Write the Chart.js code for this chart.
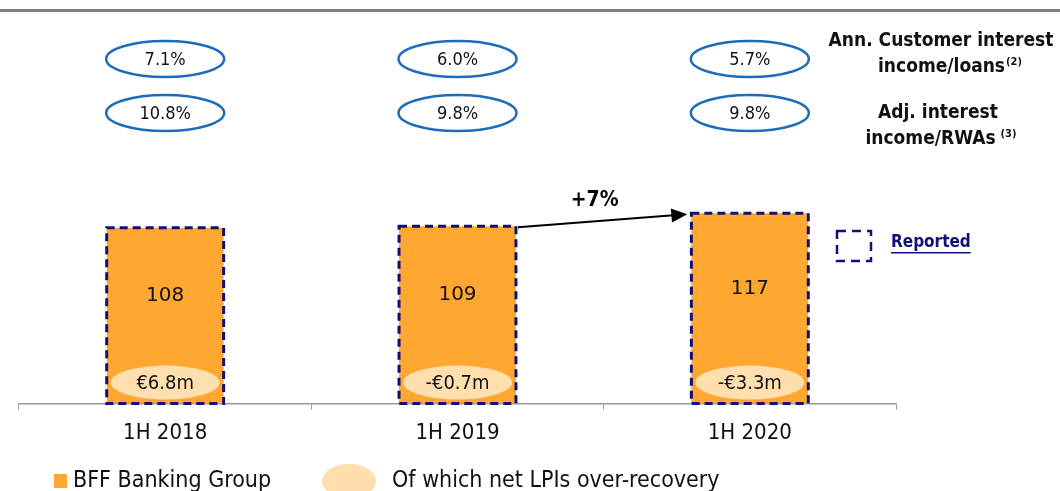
<!DOCTYPE html>
<html>
<head>
<meta charset="utf-8">
<script src="https://cdn.jsdelivr.net/npm/chart.js@4/dist/chart.umd.min.js"></script>
<style>
  body { margin: 0; background: #fff; }
  canvas { display: block; }
</style>
</head>
<body>
<canvas id="nimChart" width="1060" height="491"></canvas>
<script>
// data
const categories = ['1H 2018', '1H 2019', '1H 2020'];
const groupValues = [108, 109, 117];
const lpiLabels = ['€6.8m', '-€0.7m', '-€3.3m'];
const customerYield = ['7.1%', '6.0%', '5.7%'];
const rwaYield = ['10.8%', '9.8%', '9.8%'];
const growthLabel = '+7%';

const COND = "'DejaVu Sans Condensed', 'DejaVu Sans', sans-serif";
const ORANGE = '#FFA730';
const PEACH = '#FFDFAD';
const NAVY = '#10107A';
const BLUE = '#1E6CB8';

function ellipse(ctx, cx, cy, rx, ry) {
    ctx.beginPath();
    ctx.ellipse(cx, cy, rx, ry, 0, 0, Math.PI * 2);
}

// caption line with a small superscript, centred as a whole
function supLine(ctx, text, sup, cx, y, gap) {
    ctx.font = 'bold 19px ' + COND;
    const w1 = ctx.measureText(text).width;
    ctx.font = 'bold 11px ' + COND;
    const w2 = ctx.measureText(sup).width;
    const x0 = cx - (w1 + gap + w2) / 2;
    ctx.textAlign = 'left';
    ctx.font = 'bold 19px ' + COND;
    ctx.fillText(text, x0, y);
    ctx.font = 'bold 11px ' + COND;
    ctx.fillText(sup, x0 + w1 + gap, y - 5);
}

// draws everything that is not a plain bar
const extrasPlugin = {
    id: 'extras',
    afterDatasetsDraw(chart) {
        const ctx = chart.ctx;
        const bars = chart.getDatasetMeta(0).data;
        ctx.save();

        bars.forEach((bar, i) => {
            const w = bar.width;
            const left = bar.x - w / 2;

            // LPI ellipse at bottom of bar
            ellipse(ctx, bar.x, bar.base - 21, w / 2 - 4, 17);
            ctx.fillStyle = PEACH;
            ctx.fill();
            ctx.fillStyle = '#111';
            ctx.font = '20px ' + COND;
            ctx.textAlign = 'center';
            ctx.textBaseline = 'middle';
            ctx.fillText(lpiLabels[i], bar.x, bar.base - 20);

            // value label
            ctx.font = "20px 'DejaVu Sans', sans-serif";
            ctx.fillText(String(groupValues[i]), bar.x, (bar.y + bar.base) / 2 - 20);

            // dashed "reported" border
            ctx.setLineDash([8, 5]);
            ctx.strokeStyle = NAVY;
            ctx.lineWidth = 3;
            ctx.strokeRect(left, bar.y, w, bar.base - bar.y);
            ctx.setLineDash([]);

            // ratio ellipses above
            [[59, customerYield], [113, rwaYield]].forEach(([cy, arr]) => {
                ellipse(ctx, bar.x, cy, 59, 18);
                ctx.strokeStyle = BLUE;
                ctx.lineWidth = 2.5;
                ctx.stroke();
                ctx.fillStyle = '#111';
                ctx.font = '18px ' + COND;
                ctx.fillText(arr[i], bar.x, cy + 1);
            });
        });

        // growth arrow 1H 2019 -> 1H 2020
        const a = bars[1], b = bars[2];
        const x1 = a.x + a.width / 2 + 2, y1 = a.y + 1;
        const x2 = b.x - b.width / 2 - 4, y2 = b.y + 1;
        const ang = Math.atan2(y2 - y1, x2 - x1);
        ctx.strokeStyle = '#000';
        ctx.fillStyle = '#000';
        ctx.lineWidth = 2;
        ctx.beginPath();
        ctx.moveTo(x1, y1);
        ctx.lineTo(x2 - 14 * Math.cos(ang), y2 - 14 * Math.sin(ang));
        ctx.stroke();
        ctx.beginPath();
        ctx.moveTo(x2, y2);
        ctx.lineTo(x2 - 16 * Math.cos(ang) + 7 * Math.sin(ang), y2 - 16 * Math.sin(ang) - 7 * Math.cos(ang));
        ctx.lineTo(x2 - 16 * Math.cos(ang) - 7 * Math.sin(ang), y2 - 16 * Math.sin(ang) + 7 * Math.cos(ang));
        ctx.closePath();
        ctx.fill();
        ctx.font = 'bold 21px ' + COND;
        ctx.fillText(growthLabel, (x1 + x2) / 2 - 8, 201);

        ctx.restore();
    },
    afterDraw(chart) {
        const ctx = chart.ctx;
        ctx.save();

        // top rule
        ctx.fillStyle = '#7F7F7F';
        ctx.fillRect(0, 9, 1060, 3);

        // right-hand captions
        ctx.fillStyle = '#111';
        ctx.textAlign = 'center';
        ctx.textBaseline = 'middle';
        ctx.font = 'bold 19px ' + COND;
        ctx.fillText('Ann. Customer interest', 941, 41);
        ctx.fillText('Adj. interest', 938, 113);
        supLine(ctx, 'income/loans', '(2)', 950, 67, 1);
        supLine(ctx, 'income/RWAs', '(3)', 941, 139, 5);

        // "Reported" key
        ctx.setLineDash([9, 6]);
        ctx.strokeStyle = NAVY;
        ctx.lineWidth = 2.5;
        ctx.strokeRect(837, 231, 34, 30);
        ctx.setLineDash([]);
        ctx.fillStyle = NAVY;
        ctx.textAlign = 'left';
        ctx.font = 'bold 17px ' + COND;
        ctx.fillText('Reported', 891, 243);
        const w = ctx.measureText('Reported').width;
        ctx.fillRect(891, 252, w, 1.5);

        // bottom legend
        ctx.fillStyle = ORANGE;
        ctx.fillRect(54, 474, 13, 14);
        ellipse(ctx, 349, 481, 27, 17);
        ctx.fillStyle = PEACH;
        ctx.fill();
        ctx.fillStyle = '#111';
        ctx.font = '23px ' + COND;
        ctx.fillText('BFF Banking Group', 73, 481);
        ctx.fillText('Of which net LPIs over-recovery', 392, 481);

        ctx.restore();
    }
};

new Chart(document.getElementById('nimChart'), {
    type: 'bar',
    data: {
        labels: categories,
        datasets: [{
            data: groupValues,
            backgroundColor: ORANGE,
            borderWidth: 0,
            barPercentage: 0.8,
            categoryPercentage: 0.5
        }]
    },
    options: {
        responsive: false,
        animation: false,
        layout: { padding: { left: 19, right: 164, top: 0, bottom: 35 } },
        plugins: { legend: { display: false }, tooltip: { enabled: false } },
        scales: {
            y: { display: false, min: 0, max: 248 },
            x: {
                grid: { display: true, drawOnChartArea: false, tickLength: 6, color: '#9A9A9A', offset: true },
                border: { color: '#9A9A9A', width: 1.5 },
                ticks: { color: '#111', padding: 10, font: { size: 22, family: COND } }
            }
        }
    },
    plugins: [extrasPlugin]
});
</script>
</body>
</html>
